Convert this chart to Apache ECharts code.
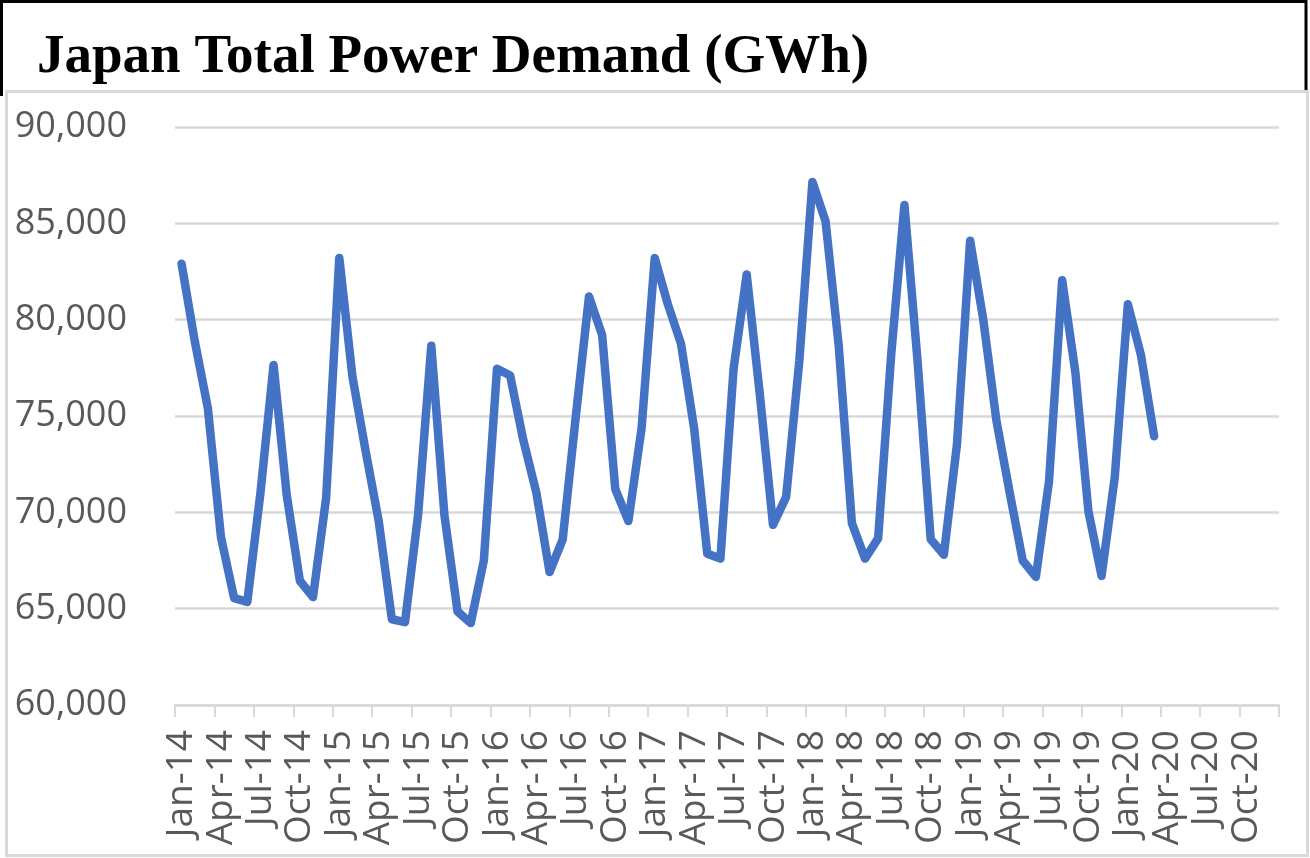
<!DOCTYPE html>
<html>
<head>
<meta charset="utf-8">
<script src="https://cdn.jsdelivr.net/npm/echarts@6/dist/echarts.min.js"></script>
<style>
html,body{margin:0;padding:0;background:#fff;}
#chart{width:1310px;height:858px;}
</style>
</head>
<body>
<div id="chart"></div>
<script>
var titleText = 'Japan Total Power Demand (GWh)';
var monthNames = ['Jan','Feb','Mar','Apr','May','Jun','Jul','Aug','Sep','Oct','Nov','Dec'];
var yearLabels = ['14','15','16','17','18','19','20'];
var yTicks = [60000, 65000, 70000, 75000, 80000, 85000, 90000];
var demand = [
  82900, 78900, 75400, 68700, 65550, 65350, 71000, 77650, 70900, 66450, 65600, 70750,
  83200, 77050, 73200, 69550, 64450, 64300, 69900, 78650, 69850, 64850, 64250, 67500,
  77450, 77100, 73750, 71000, 66900, 68600, 75000, 81200, 79200, 71200, 69550, 74350,
  83200, 80800, 78750, 74350, 67850, 67600, 77450, 82350, 76100, 69350, 70800, 77850,
  87150, 85100, 78650, 69450, 67600, 68650, 78250, 85950, 77850, 68600, 67800, 73550,
  84100, 80000, 74750, 71050, 67500, 66650, 71600, 82050, 77300, 70050, 66700, 71800,
  80800, 78150, 73950
];

var categories = [];
yearLabels.forEach(function (y) {
  monthNames.forEach(function (m) { categories.push(m + '-' + y); });
});

var chart = echarts.init(document.getElementById('chart'), null, {renderer: 'canvas'});
var grey = '#d9d9d9';
chart.setOption({
  backgroundColor: '#ffffff',
  animation: false,
  title: {
    text: titleText,
    left: 32,
    top: 25,
    textStyle: {
      fontFamily: '"Liberation Serif", "Times New Roman", serif',
      fontWeight: 'bold',
      fontSize: 55,
      color: '#000000'
    }
  },
  graphic: [
    {type: 'line', shape: {x1: 1.5, y1: 0, x2: 1.5, y2: 96}, style: {stroke: '#000', lineWidth: 3}},
    {type: 'line', shape: {x1: 0, y1: 1.5, x2: 1307, y2: 1.5}, style: {stroke: '#000', lineWidth: 3}},
    {type: 'line', shape: {x1: 1306, y1: 0, x2: 1306, y2: 92}, style: {stroke: '#000', lineWidth: 3}},
    {type: 'rect', shape: {x: 6.5, y: 91.5, width: 1301, height: 764}, style: {fill: null, stroke: grey, lineWidth: 3}}
  ],
  grid: {left: 175, right: 31, top: 127, bottom: 153, containLabel: false},
  xAxis: {
    type: 'category',
    data: categories,
    boundaryGap: true,
    axisLine: {show: true, lineStyle: {color: grey, width: 2.5}},
    axisTick: {show: true, interval: 2, alignWithLabel: false, length: 12, lineStyle: {color: grey, width: 2}},
    axisLabel: {
      interval: 2,
      rotate: 90,
      margin: 25,
      color: '#595959',
      fontFamily: '"Open Sans", sans-serif',
      fontSize: 37
    },
    splitLine: {show: false}
  },
  yAxis: {
    type: 'value',
    min: yTicks[0],
    max: yTicks[yTicks.length - 1],
    interval: 5000,
    axisLine: {show: false},
    axisTick: {show: false},
    axisLabel: {
      margin: 48,
      color: '#595959',
      fontFamily: '"Open Sans", sans-serif',
      fontSize: 36,
      formatter: function (v) { return v.toLocaleString('en-US'); }
    },
    splitLine: {show: true, lineStyle: {color: grey, width: 2.5}}
  },
  series: [{
    type: 'line',
    data: demand,
    showSymbol: false,
    symbol: 'none',
    lineStyle: {color: '#4472C4', width: 8.5, cap: 'round', join: 'round'},
    itemStyle: {color: '#4472C4'}
  }]
});
</script>
</body>
</html>
